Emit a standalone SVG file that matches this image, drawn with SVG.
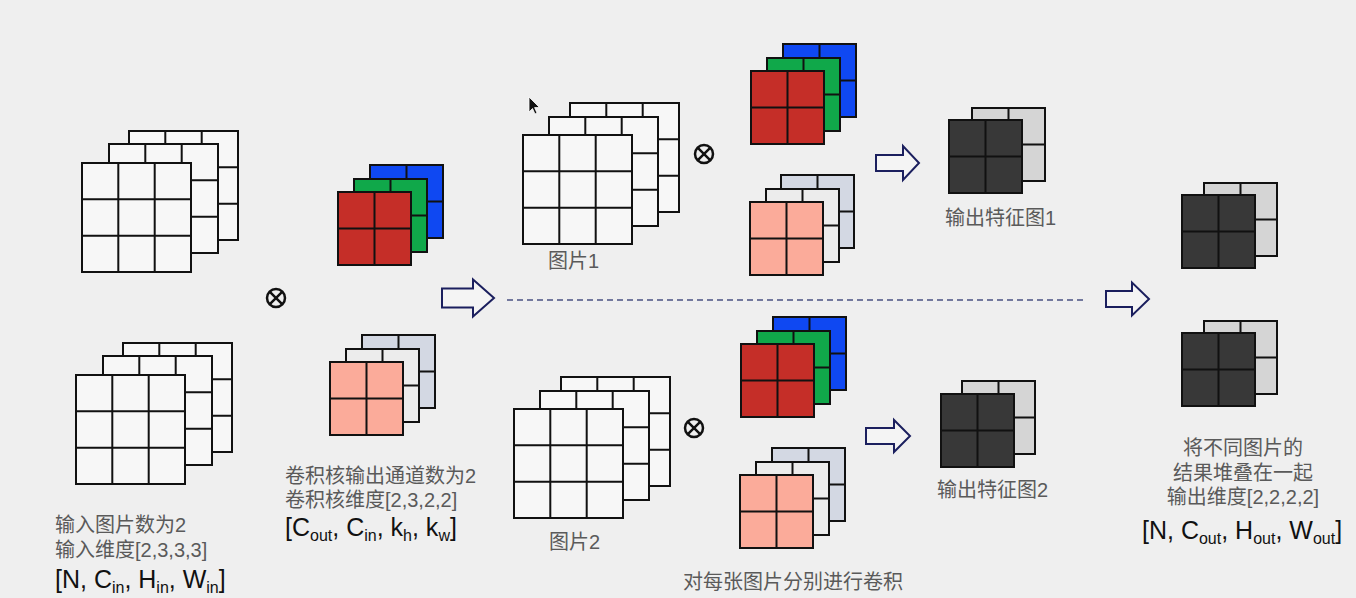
<svg xmlns="http://www.w3.org/2000/svg" xmlns:xlink="http://www.w3.org/1999/xlink" width="1356" height="598" viewBox="0 0 1356 598">
<style>
.t{font-family:"Liberation Sans","Noto Sans CJK SC",sans-serif;font-size:20px;fill:#5a5a5a}
.b{font-family:"Liberation Sans","Noto Sans CJK SC",sans-serif;font-size:25px;fill:#111}
.s{font-size:16px}
.w{fill:#f7f7f7}
.red{fill:#c52e28}
.grn{fill:#10a84a}
.blu{fill:#0f48f2}
.pnk{fill:#fbab9a}
.lg{fill:#ececec}
.bg{fill:#d3d8e3}
.dk{fill:#383838}
.gy{fill:#d5d5d5}
.arr{fill:#f4f4f4;stroke:#1b1f5e;stroke-width:2;stroke-linejoin:miter}
.ot{fill:none;stroke:#111;stroke-width:2.5}
</style>
<defs>
<g id="g3">
<rect x="0" y="0" width="109" height="109" stroke="#111" stroke-width="2"/>
<path d="M36.3 0V109M72.7 0V109M0 36.3H109M0 72.7H109" stroke="#111" stroke-width="2" fill="none"/>
</g>
<g id="g2">
<rect x="0" y="0" width="73" height="73" stroke="#111" stroke-width="2"/>
<path d="M36.5 0V73M0 36.5H73" stroke="#111" stroke-width="2" fill="none"/>
</g>
</defs>
<rect width="1356" height="598" fill="#efefef"/>

<g id="input1">
<use xlink:href="#g3" class="w" x="129" y="131"/>
<use xlink:href="#g3" class="w" x="109" y="144"/>
<use xlink:href="#g3" class="w" x="82" y="163"/>
</g>
<g id="input2">
<use xlink:href="#g3" class="w" x="123" y="343"/>
<use xlink:href="#g3" class="w" x="103" y="356"/>
<use xlink:href="#g3" class="w" x="76" y="375"/>
</g>
<g id="conv-op-left">
<circle cx="276" cy="298" r="9" class="ot"/>
<path d="M269.6 291.6L282.4 304.4M282.4 291.6L269.6 304.4" class="ot"/>
</g>
<g id="kernel1">
<use xlink:href="#g2" class="blu" x="370" y="165"/>
<use xlink:href="#g2" class="grn" x="354" y="179"/>
<use xlink:href="#g2" class="red" x="338" y="192"/>
</g>
<g id="kernel2">
<use xlink:href="#g2" class="bg" x="362" y="335"/>
<use xlink:href="#g2" class="lg" x="346" y="349"/>
<use xlink:href="#g2" class="pnk" x="330" y="362"/>
</g>
<g id="labels-left">
<text class="t" x="55" y="532">输入图片数为2</text>
<text class="t" x="55" y="557">输入维度[2,3,3,3]</text>
<text class="b" x="55" y="588">[N, C<tspan class="s" dy="5">in</tspan><tspan dy="-5">, H</tspan><tspan class="s" dy="5">in</tspan><tspan dy="-5">, W</tspan><tspan class="s" dy="5">in</tspan><tspan dy="-5">]</tspan></text>
<text class="t" x="285" y="483">卷积核输出通道数为2</text>
<text class="t" x="285" y="507">卷积核维度[2,3,2,2]</text>
<text class="b" x="285" y="536">[C<tspan class="s" dy="5">out</tspan><tspan dy="-5">, C</tspan><tspan class="s" dy="5">in</tspan><tspan dy="-5">, k</tspan><tspan class="s" dy="5">h</tspan><tspan dy="-5">, k</tspan><tspan class="s" dy="5">w</tspan><tspan dy="-5">]</tspan></text>
</g>

<g id="image1">
<use xlink:href="#g3" class="w" x="570" y="103"/>
<use xlink:href="#g3" class="w" x="549" y="117"/>
<use xlink:href="#g3" class="w" x="523" y="135"/>
<text class="t" x="548" y="268">图片1</text>
</g>
<g id="conv-op-1">
<circle cx="704" cy="154" r="9" class="ot"/>
<path d="M697.6 147.6L710.4 160.4M710.4 147.6L697.6 160.4" class="ot"/>
</g>
<g id="kernel1-top">
<use xlink:href="#g2" class="blu" x="783" y="44"/>
<use xlink:href="#g2" class="grn" x="767" y="58"/>
<use xlink:href="#g2" class="red" x="751" y="71"/>
</g>
<g id="kernel2-top">
<use xlink:href="#g2" class="bg" x="781" y="175"/>
<use xlink:href="#g2" class="lg" x="766" y="189"/>
<use xlink:href="#g2" class="pnk" x="750" y="202"/>
</g>
<g id="feature1">
<use xlink:href="#g2" class="gy" x="972" y="108"/>
<use xlink:href="#g2" class="dk" x="949" y="120"/>
<text class="t" x="945" y="225">输出特征图1</text>
</g>

<g id="image2">
<use xlink:href="#g3" class="w" x="561" y="377"/>
<use xlink:href="#g3" class="w" x="540" y="391"/>
<use xlink:href="#g3" class="w" x="514" y="409"/>
<text class="t" x="549" y="549">图片2</text>
</g>
<g id="conv-op-2">
<circle cx="694" cy="428" r="9" class="ot"/>
<path d="M687.6 421.6L700.4 434.4M700.4 421.6L687.6 434.4" class="ot"/>
</g>
<g id="kernel1-bottom">
<use xlink:href="#g2" class="blu" x="773" y="317"/>
<use xlink:href="#g2" class="grn" x="757" y="331"/>
<use xlink:href="#g2" class="red" x="741" y="344"/>
</g>
<g id="kernel2-bottom">
<use xlink:href="#g2" class="bg" x="772" y="448"/>
<use xlink:href="#g2" class="lg" x="756" y="462"/>
<use xlink:href="#g2" class="pnk" x="740" y="475"/>
</g>
<g id="feature2">
<use xlink:href="#g2" class="gy" x="962" y="381"/>
<use xlink:href="#g2" class="dk" x="941" y="394"/>
<text class="t" x="937" y="497">输出特征图2</text>
</g>
<text class="t" x="683" y="589">对每张图片分别进行卷积</text>

<g id="result">
<use xlink:href="#g2" class="gy" x="1204" y="183"/>
<use xlink:href="#g2" class="dk" x="1182" y="195"/>
<use xlink:href="#g2" class="gy" x="1204" y="321"/>
<use xlink:href="#g2" class="dk" x="1182" y="333"/>
<text class="t" x="1243" y="455" text-anchor="middle">将不同图片的</text>
<text class="t" x="1243" y="480" text-anchor="middle">结果堆叠在一起</text>
<text class="t" x="1243" y="504" text-anchor="middle">输出维度[2,2,2,2]</text>
<text class="b" x="1142" y="539">[N, C<tspan class="s" dy="5">out</tspan><tspan dy="-5">, H</tspan><tspan class="s" dy="5">out</tspan><tspan dy="-5">, W</tspan><tspan class="s" dy="5">out</tspan><tspan dy="-5">]</tspan></text>
</g>

<g id="connectors">
<path class="arr" d="M442 288.5H473V279.5L494 298L473 316.5V307.5H442Z"/>
<path class="arr" d="M876 155H903V146L919 163L903 180V171H876Z"/>
<path class="arr" d="M866 428H894V420L910 436L894 452V444H866Z"/>
<path class="arr" d="M1106 291H1132V282.5L1149 299L1132 315.5V307H1106Z"/>
<line x1="507" y1="300" x2="1087" y2="300" stroke="#4a5183" stroke-width="1.5" stroke-dasharray="6 4"/>
</g>

<g id="cursor">
<path d="M529 97L529 112L532.5 108.5L535 114L537 113L534.6 107.6L539.5 107.5Z" fill="#111" stroke="#fff" stroke-width="0.8"/>
</g>
</svg>
